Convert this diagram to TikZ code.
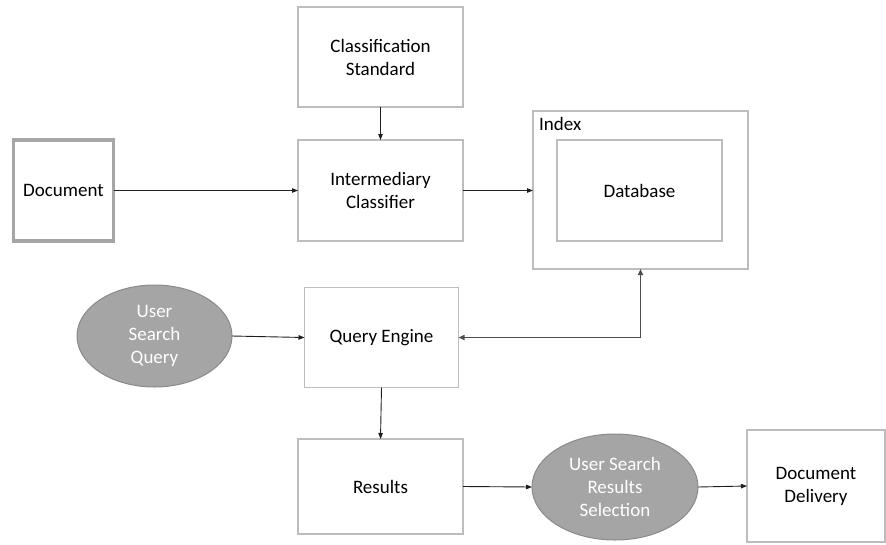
\documentclass[tikz,border=0pt]{standalone}
\usepackage{fontspec}
\setmainfont{Carlito}
\usetikzlibrary{arrows.meta,shapes.geometric}

\definecolor{boxline}{HTML}{BDBDBD}
\definecolor{docline}{HTML}{A6A6A6}
\definecolor{ovalfill}{HTML}{A5A5A5}
\definecolor{ovalline}{HTML}{8A8A8A}
\definecolor{arrowcol}{HTML}{1E1E1E}

\tikzset{
  plainbox/.style={draw=boxline, line width=1.3pt, rectangle, align=center,
    inner sep=0pt, outer sep=0pt, font=\fontsize{19}{23}\selectfont, text=black},
  userbox/.style={draw=ovalline, line width=1pt, fill=ovalfill, ellipse, align=center,
    inner sep=0pt, outer sep=0pt, text=white, font=\fontsize{19}{23}\selectfont},
  flow/.style={draw=arrowcol, line width=0.9pt, -{Triangle[length=6pt,width=4.5pt]}},
  twoway/.style={draw=black!70, line width=1.6pt,
    {Triangle[length=6pt,width=5pt]}-{Triangle[length=6pt,width=5pt]}}
}

\begin{document}
\begin{tikzpicture}[x=1pt,y=-1pt]
\useasboundingbox (0,0) rectangle (886,544);

% top row
\node[plainbox, minimum width=165pt, minimum height=100pt] (cls) at (380.5,57) {Classification\\Standard};
\node[plainbox, minimum width=165pt, minimum height=101pt] (imc) at (380.5,190.5) {Intermediary\\Classifier};
\node[plainbox, draw=docline, line width=3.6pt, minimum width=100pt, minimum height=101pt] (doc) at (63.5,190.5) {Document};

% index containing the database
\node[plainbox, minimum width=215pt, minimum height=158pt] (idx) at (640.5,190) {};
\node[anchor=north west, inner sep=0pt, font=\fontsize{19}{23}\selectfont, text=black] (idxlbl) at (539,117) {Index};
\node[plainbox, minimum width=165pt, minimum height=101pt] (db) at (639.5,190.5) {Database};

% query row
\node[userbox, minimum width=155pt, minimum height=102pt] (usq) at (154.5,336) {User\\Search\\Query};
\node[plainbox, minimum width=154pt, minimum height=100pt] (qe) at (381.5,337.5) {Query Engine};

% results row
\node[plainbox, minimum width=165pt, minimum height=95pt] (res) at (380.5,486.5) {Results};
\node[userbox, minimum width=166pt, minimum height=106pt] (usr) at (615,487) {User Search\\Results\\Selection};
\node[plainbox, minimum width=138pt, minimum height=112pt] (dd) at (816,486) {Document\\Delivery};

% connectors
\draw[flow] (cls.south) -- (imc.north);
\draw[flow] (doc.east) -- (imc.west);
\draw[flow] (imc.east) -- (idx.west |- imc.east);
\draw[flow] (usq.east) -- (qe.west);
\draw[twoway] (qe.east) -| (idx.south);
\draw[flow] (qe.south) -- (res.north);
\draw[flow] (res.east) -- (usr.west);
\draw[flow] (usr.east) -- (dd.west);
\end{tikzpicture}
\end{document}
